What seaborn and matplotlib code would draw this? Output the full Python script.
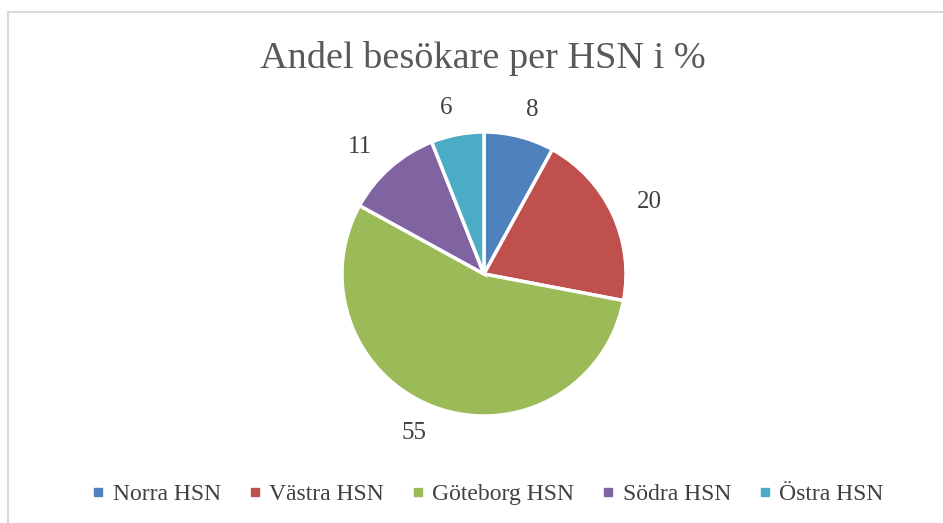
import matplotlib.pyplot as plt
import seaborn as sns
from matplotlib.lines import Line2D
from matplotlib.patches import Rectangle

regions = ['Norra HSN', 'Västra HSN', 'Göteborg HSN', 'Södra HSN', 'Östra HSN']
shares = [8, 20, 55, 11, 6]
colors = ['#4F81BD', '#C0504D', '#9BBB59', '#8064A2', '#4BACC6']


def main():
    sns.set_theme(style='white')
    plt.rcParams['font.family'] = ['Liberation Serif', 'DejaVu Serif']
    palette = sns.color_palette(colors)

    fig = plt.figure(figsize=(9.43, 5.23), dpi=100)
    fig.patch.set_facecolor('white')
    # light chart frame, only top and left edges visible in the crop
    fig.patches.append(Rectangle((8 / 943, -0.1), 1.0, 1 - 12 / 523 + 0.1,
                                 transform=fig.transFigure, fill=False,
                                 edgecolor='#D9D9D9', linewidth=1.5))

    r = 142
    cx, cy = 484, 523 - 274
    ax = fig.add_axes([(cx - r) / 943, (cy - r) / 523, 2 * r / 943, 2 * r / 523])
    ax.pie(shares, labels=[str(s) for s in shares], colors=palette,
           startangle=90, counterclock=False, labeldistance=1.19,
           wedgeprops=dict(edgecolor='white', linewidth=2.5),
           textprops=dict(color='#404040', fontsize=18))
    ax.set_xlim(-1, 1)
    ax.set_ylim(-1, 1)

    fig.text(0.512, 1 - 59 / 523, 'Andel besökare per HSN i %', ha='center',
             va='center', fontsize=27.5, color='#595959')

    handles = [Line2D([], [], marker='s', linestyle='none', markersize=6,
                      markerfacecolor=c, markeredgecolor=c) for c in palette]
    fig.legend(handles, regions, loc='center', bbox_to_anchor=(0.517, 1 - 494 / 523),
               ncol=5, frameon=False, fontsize=17, handlelength=0.6,
               handletextpad=0.3, columnspacing=1.15, labelcolor='#404040')

    fig.savefig('out.png', dpi=100)


if __name__ == '__main__':
    main()
